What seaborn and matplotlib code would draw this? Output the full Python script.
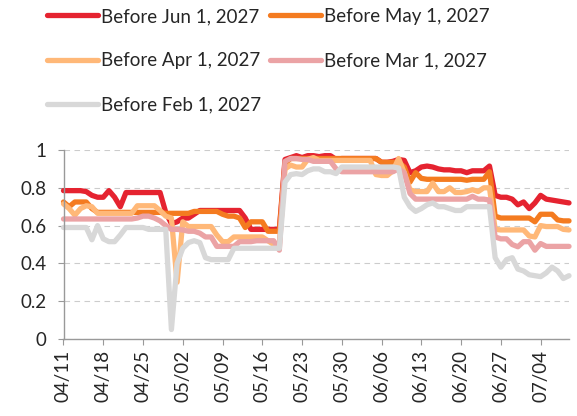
import numpy as np
import pandas as pd
import seaborn as sns
import matplotlib.pyplot as plt
from matplotlib.ticker import FuncFormatter

sns.set_style('white')
plt.rcParams['font.family'] = ['Lato', 'DejaVu Sans']

start_date = '2027-04-11'
n_days = 90

before_jun = [0.785, 0.785, 0.785, 0.785, 0.78, 0.76, 0.75, 0.75, 0.785, 0.75,
              0.70, 0.775, 0.775, 0.775, 0.775, 0.775, 0.775, 0.775, 0.67, 0.61,
              0.62, 0.64, 0.64, 0.66, 0.68, 0.68, 0.68, 0.68, 0.68, 0.68,
              0.68, 0.68, 0.64, 0.58, 0.58, 0.58, 0.58, 0.58, 0.58, 0.95,
              0.96, 0.97, 0.96, 0.97, 0.97, 0.965, 0.97, 0.97, 0.95, 0.955,
              0.955, 0.955, 0.955, 0.955, 0.955, 0.955, 0.935, 0.935, 0.94, 0.95,
              0.945, 0.88, 0.89, 0.91, 0.915, 0.91, 0.90, 0.895, 0.895, 0.89,
              0.89, 0.88, 0.89, 0.89, 0.89, 0.915, 0.76, 0.75, 0.75, 0.74,
              0.71, 0.725, 0.69, 0.72, 0.76, 0.74, 0.735, 0.73, 0.725, 0.72]

before_may = [0.725, 0.70, 0.725, 0.725, 0.725, 0.69, 0.67, 0.67, 0.67, 0.67,
              0.67, 0.67, 0.67, 0.67, 0.67, 0.67, 0.67, 0.67, 0.665, 0.665,
              0.665, 0.665, 0.665, 0.675, 0.675, 0.675, 0.675, 0.675, 0.66, 0.65,
              0.65, 0.64, 0.59, 0.62, 0.62, 0.62, 0.57, 0.57, 0.57, 0.93,
              0.955, 0.955, 0.955, 0.955, 0.955, 0.955, 0.955, 0.955, 0.955, 0.955,
              0.955, 0.955, 0.955, 0.955, 0.955, 0.955, 0.935, 0.935, 0.935, 0.935,
              0.91, 0.83, 0.88, 0.85, 0.845, 0.845, 0.845, 0.845, 0.845, 0.845,
              0.845, 0.84, 0.845, 0.845, 0.845, 0.885, 0.65, 0.64, 0.64, 0.64,
              0.64, 0.64, 0.64, 0.62, 0.66, 0.66, 0.66, 0.63, 0.625, 0.625]

before_apr = [0.715, 0.69, 0.655, 0.69, 0.705, 0.70, 0.665, 0.665, 0.665, 0.665,
              0.665, 0.665, 0.665, 0.705, 0.705, 0.705, 0.705, 0.68, 0.65, 0.64,
              0.30, 0.62, 0.595, 0.595, 0.595, 0.595, 0.595, 0.55, 0.515, 0.515,
              0.54, 0.54, 0.54, 0.54, 0.54, 0.54, 0.52, 0.50, 0.50, 0.90,
              0.92, 0.91, 0.91, 0.95, 0.96, 0.945, 0.945, 0.945, 0.945, 0.945,
              0.945, 0.945, 0.945, 0.945, 0.945, 0.87, 0.865, 0.865, 0.89, 0.955,
              0.88, 0.79, 0.78, 0.78, 0.78, 0.825, 0.78, 0.78, 0.80, 0.775,
              0.775, 0.78, 0.79, 0.78, 0.80, 0.80, 0.58, 0.577, 0.577, 0.577,
              0.577, 0.577, 0.545, 0.54, 0.60, 0.595, 0.595, 0.595, 0.58, 0.577]

before_mar = [0.635, 0.635, 0.635, 0.635, 0.635, 0.635, 0.635, 0.635, 0.635, 0.635,
              0.635, 0.635, 0.635, 0.64, 0.65, 0.65, 0.64, 0.625, 0.60, 0.58,
              0.58, 0.577, 0.57, 0.57, 0.56, 0.54, 0.54, 0.49, 0.49, 0.49,
              0.49, 0.515, 0.515, 0.515, 0.52, 0.52, 0.52, 0.52, 0.47, 0.94,
              0.955, 0.955, 0.95, 0.95, 0.94, 0.94, 0.94, 0.94, 0.90, 0.885,
              0.885, 0.885, 0.885, 0.885, 0.885, 0.885, 0.885, 0.885, 0.885, 0.90,
              0.88, 0.77, 0.74, 0.74, 0.74, 0.74, 0.74, 0.74, 0.74, 0.74,
              0.74, 0.74, 0.755, 0.74, 0.74, 0.735, 0.54, 0.53, 0.53, 0.50,
              0.488, 0.515, 0.515, 0.47, 0.505, 0.49, 0.49, 0.49, 0.49, 0.49]

before_feb = [0.59, 0.59, 0.59, 0.59, 0.59, 0.525, 0.60, 0.53, 0.515, 0.515,
              0.55, 0.59, 0.59, 0.59, 0.59, 0.58, 0.58, 0.58, 0.58, 0.05,
              0.40, 0.48, 0.51, 0.52, 0.51, 0.43, 0.42, 0.42, 0.42, 0.42,
              0.48, 0.48, 0.48, 0.48, 0.48, 0.48, 0.48, 0.48, 0.48, 0.83,
              0.87, 0.875, 0.87, 0.89, 0.90, 0.90, 0.885, 0.885, 0.875, 0.91,
              0.91, 0.91, 0.91, 0.91, 0.91, 0.91, 0.91, 0.91, 0.91, 0.905,
              0.75, 0.70, 0.675, 0.69, 0.71, 0.72, 0.70, 0.70, 0.69, 0.68,
              0.68, 0.70, 0.70, 0.70, 0.70, 0.70, 0.43, 0.38, 0.42, 0.43,
              0.37, 0.36, 0.34, 0.335, 0.33, 0.35, 0.38, 0.36, 0.32, 0.335]

series_names = ['Before Jun 1, 2027', 'Before May 1, 2027', 'Before Apr 1, 2027',
                'Before Mar 1, 2027', 'Before Feb 1, 2027']
series_values = [before_jun, before_may, before_apr, before_mar, before_feb]
colors = ['#E52330', '#F47B20', '#FFB878', '#EBA3A5', '#D8D8D8']

dates = pd.date_range(start_date, periods=n_days, freq='D')
df = pd.concat([pd.DataFrame({'date': dates, 'value': v, 'series': name})
                for name, v in zip(series_names, series_values)])

fig = plt.figure(figsize=(5.77, 4.16), dpi=100)
ax = fig.add_axes([63.5 / 577, 1 - 339 / 416, (569 - 63.5) / 577, 189 / 416])

sns.lineplot(data=df, x='date', y='value', hue='series', hue_order=series_names,
             palette=colors, linewidth=3.8, legend=False, ax=ax)
for line in ax.lines:
    line.set_solid_capstyle('round')
    line.set_solid_joinstyle('round')
    line.set_clip_on(False)

ax.set_xlim(dates[0], dates[-1])
ax.set_ylim(0, 1)
ax.set_xlabel('')
ax.set_ylabel('')
ax.set_yticks(np.arange(0, 1.01, 0.2))
ax.yaxis.set_major_formatter(FuncFormatter(lambda v, _: f'{v:g}'))
ax.set_xticks(dates[::7])
ax.set_xticklabels([d.strftime('%m/%d') for d in dates[::7]], rotation=90)
ax.tick_params(axis='both', labelsize=13.5, length=4, color='#999999', direction='out')
ax.tick_params(axis='x', bottom=True, pad=4)
ax.tick_params(axis='y', left=True, pad=8)
ax.grid(axis='y', color='#CCCCCC', linestyle=(0, (5, 4)), linewidth=0.8)
ax.set_axisbelow(True)
for side in ['top', 'right']:
    ax.spines[side].set_visible(False)
for side in ['left', 'bottom']:
    ax.spines[side].set_color('#999999')
    ax.spines[side].set_linewidth(1.0)

# legend is filled column by column, so reorder for row layout
handles = [plt.Line2D([], [], color=c, linewidth=3.8, solid_capstyle='round') for c in colors]
order = [0, 2, 4, 1, 3]
fig.legend([handles[i] for i in order], [series_names[i] for i in order],
           ncol=2, loc='upper left', bbox_to_anchor=(47 / 577, 1 - 8 / 416),
           frameon=False, fontsize=13.5, handlelength=2.7, handletextpad=0.2,
           columnspacing=0.45, labelspacing=1.45, borderpad=0, borderaxespad=0)

fig.savefig('out.png', dpi=100)
